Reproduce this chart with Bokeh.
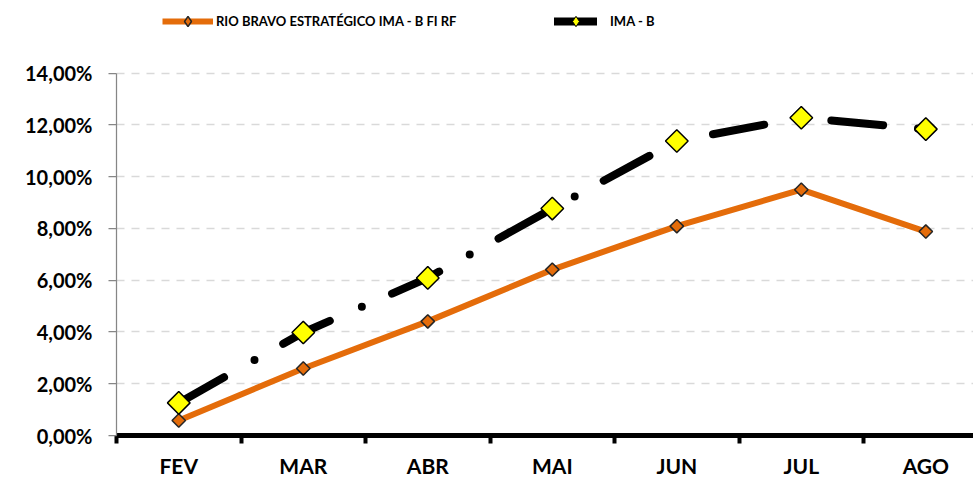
import math
from bokeh.plotting import figure
from bokeh.models import Legend, LegendItem, FixedTicker, Range1d
from bokeh.embed import file_html
from bokeh.resources import INLINE

months = ["FEV", "MAR", "ABR", "MAI", "JUN", "JUL", "AGO"]
rio_bravo = [0.58, 2.59, 4.41, 6.41, 8.09, 9.50, 7.88]
ima_b = [1.26, 3.98, 6.09, 8.77, 11.38, 12.28, 11.84]
y_ticks = [0, 2, 4, 6, 8, 10, 12, 14]
y_tick_labels = ["0,00%", "2,00%", "4,00%", "6,00%", "8,00%", "10,00%", "12,00%", "14,00%"]
series_names = ["RIO BRAVO ESTRATÉGICO IMA - B FI RF", "IMA - B"]

ORANGE = "#E46C0A"
FONT = "Lato"

x = list(range(len(months)))
bounds = [i - 0.5 for i in range(len(months) + 1)]

# frame spans the full height above the x axis; the value axis is bounded to 0..14
p = figure(width=973, height=480, output_backend="svg", toolbar_location=None,
           x_range=Range1d(-0.5, 6.383), y_range=Range1d(0, 16.81),
           min_border_left=116, min_border_right=0, min_border_top=0, min_border_bottom=45)
p.outline_line_color = None
p.background_fill_color = "white"
p.border_fill_color = "white"

# grid
p.xgrid.grid_line_color = None
p.ygrid.grid_line_color = "#d9d9d9"
p.ygrid.grid_line_width = 1.5
p.ygrid.grid_line_dash = "8 7"

# y axis
p.yaxis.ticker = FixedTicker(ticks=y_ticks)
p.yaxis.bounds = (0, 14)
p.yaxis.major_label_overrides = dict(zip(y_ticks, y_tick_labels))
p.yaxis.axis_line_color = "#868686"
p.yaxis.axis_line_width = 1.25
p.yaxis.major_tick_line_color = "#868686"
p.yaxis.major_tick_line_width = 1.25
p.yaxis.major_tick_out = 8
p.yaxis.major_tick_in = 0
p.yaxis.minor_tick_line_color = None
p.yaxis.major_label_text_font = FONT
p.yaxis.major_label_text_font_style = "bold"
p.yaxis.major_label_text_font_size = "20px"
p.yaxis.major_label_text_color = "black"
p.yaxis.major_label_standoff = 16

# x axis
p.xaxis.ticker = FixedTicker(ticks=x, minor_ticks=bounds)
p.xaxis.major_label_overrides = dict(zip(x, months))
p.xaxis.axis_line_color = "black"
p.xaxis.axis_line_width = 5
p.xaxis.major_tick_out = 0
p.xaxis.major_tick_in = 0
p.xaxis.major_tick_line_color = None
p.xaxis.minor_tick_out = 8
p.xaxis.minor_tick_in = 0
p.xaxis.minor_tick_line_color = "black"
p.xaxis.minor_tick_line_width = 4
p.xaxis.major_label_text_font = FONT
p.xaxis.major_label_text_font_style = "bold"
p.xaxis.major_label_text_font_size = "21px"
p.xaxis.major_label_text_color = "black"
p.xaxis.major_label_standoff = 9

# series 1: Rio Bravo
l1 = p.line(x, rio_bravo, line_color=ORANGE, line_width=6, line_join="round")
k1 = p.scatter(x, rio_bravo, marker="diamond", size=6,
               fill_color=ORANGE, line_color="#262626", line_width=1.5)
m1 = p.scatter(x, rio_bravo, marker="square", angle=math.pi / 4, size=9.5,
               fill_color=ORANGE, line_color="#262626", line_width=1.5)

# series 2: IMA-B
l2 = p.line(x, ima_b, line_color="black", line_width=8, line_cap="round",
            line_join="round", line_dash="52 35 0 33")
k2 = p.scatter(x, ima_b, marker="diamond", size=8,
               fill_color="#FFFF00", line_color="black", line_width=1)
m2 = p.scatter(x, ima_b, marker="square", angle=math.pi / 4, size=16,
               fill_color="#FFFF00", line_color="black", line_width=1.5)

def make_legend(item, loc, gw, standoff):
    return Legend(items=[item], location=loc, orientation="horizontal",
                  glyph_width=gw, glyph_height=26, label_standoff=standoff,
                  padding=0, margin=0, spacing=0,
                  border_line_color=None, background_fill_alpha=0,
                  label_text_font=FONT, label_text_font_style="bold",
                  label_text_font_size="13px", label_text_color="black")

leg1 = make_legend(LegendItem(label=series_names[0], renderers=[l1, k1]), (46, 401), 51, 3)
leg2 = make_legend(LegendItem(label=series_names[1], renderers=[l2, k2]), (438, 401), 43, 13)
p.add_layout(leg1)
p.add_layout(leg2)

open("out.html", "w").write(file_html(p, INLINE))
